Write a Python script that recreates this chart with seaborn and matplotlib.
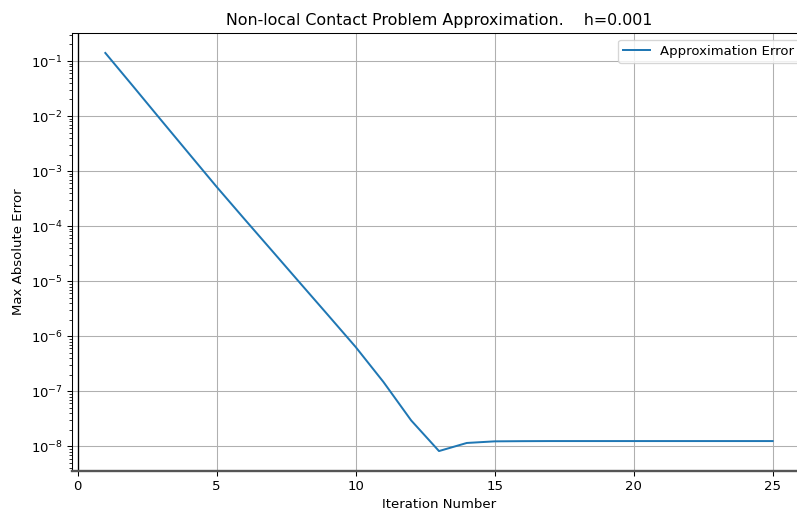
import matplotlib
matplotlib.use("Agg")
import matplotlib.pyplot as plt
import seaborn as sns
import pandas as pd

# Iteration count and the max absolute error after each iteration
iterations = list(range(1, 26))
max_abs_error = [
    1.40e-1, 3.47e-2, 8.5e-3, 2.1e-3, 5.2e-4,
    1.35e-4, 3.55e-5, 9.3e-6, 2.45e-6, 6.4e-7,
    1.48e-7, 2.95e-8, 8.2e-9, 1.15e-8, 1.23e-8,
    1.24e-8, 1.245e-8, 1.245e-8, 1.245e-8, 1.245e-8,
    1.245e-8, 1.245e-8, 1.245e-8, 1.245e-8, 1.245e-8,
]
y_decades = [1e-8, 1e-7, 1e-6, 1e-5, 1e-4, 1e-3, 1e-2, 1e-1]
x_ticks = [0, 5, 10, 15, 20, 25]
step_h = 0.001

df = pd.DataFrame({"Iteration Number": iterations, "Max Absolute Error": max_abs_error})

DPI = 95
fig = plt.figure(figsize=(797 / DPI, 513 / DPI), dpi=DPI)
ax = fig.add_axes([0.0903, 0.0828, 0.921, 0.853])

sns.lineplot(data=df, x="Iteration Number", y="Max Absolute Error",
             ax=ax, color="#1f77b4", linewidth=1.5, label="Approximation Error")
ax.set_yscale("log")
ax.set_xlim(-0.2, 26.2)
ax.set_ylim(10 ** -8.44, 10 ** -0.49)
ax.set_xticks(x_ticks)
ax.set_yticks(y_decades)

# dark reference line at x = 0
ax.axvline(0, color="black", linewidth=1.0)
ax.grid(True, which="major", color="#b0b0b0", linewidth=0.8)

# heavier grey baseline along the bottom of the axes
ax.spines["bottom"].set_visible(False)
ax.plot([0, 1], [0, 0], transform=ax.transAxes, color="#555555",
        linewidth=1.8, clip_on=False, zorder=3)

ax.set_title(f"Non-local Contact Problem Approximation.    h={step_h}")
ax.set_xlabel("Iteration Number")
ax.set_ylabel("Max Absolute Error")
ax.legend(loc="upper right")

fig.savefig("out.png", dpi=DPI)
